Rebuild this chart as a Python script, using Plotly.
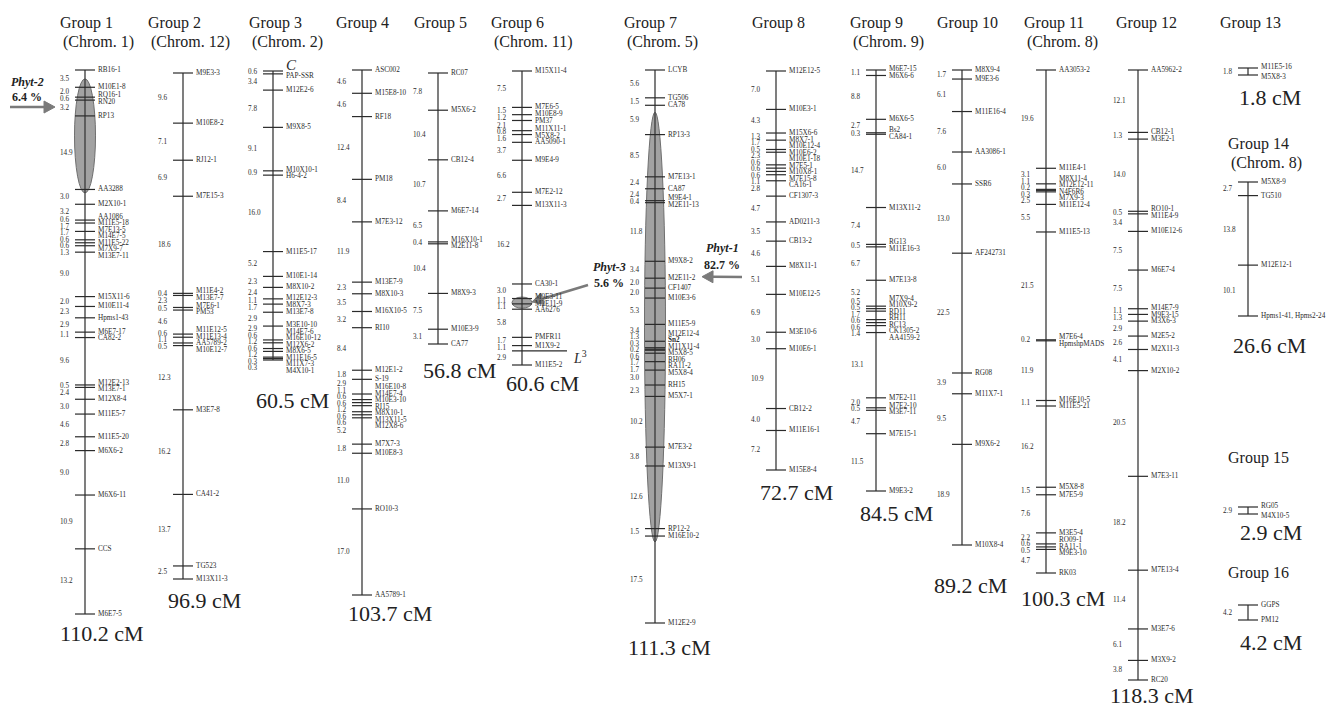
import plotly.graph_objects as go

# ---------------- linkage groups: marker order and adjacent distances (cM) ----------------
G1_MARKERS = ["RB16-1", "M10E1-8", "RQ16-1", "RN20", "RP13", "AA3288", "M2X10-1", "AA1086",
              "M11E5-18", "M7E13-5", "M14E7-5", "M11E5-22", "M7X9-7", "M13E7-11", "M15X11-6",
              "M10E11-4", "Hpms1-43", "M6E7-17", "CA82-2", "M12E2-13", "M13E7-1", "M12X8-4",
              "M11E5-7", "M11E5-20", "M6X6-2", "M6X6-11", "CCS", "M6E7-5"]
G1_DIST = [3.5, 2.0, 0.6, 3.2, 14.9, 3.0, 3.2, 0.6, 1.7, 1.7, 0.6, 0.6, 1.3, 9.0, 2.0, 2.3,
           2.9, 1.1, 9.6, 0.5, 2.4, 3.0, 4.6, 2.8, 9.0, 10.9, 13.2]

G2_MARKERS = ["M9E3-3", "M10E8-2", "RJ12-1", "M7E15-3", "M11E4-2", "M13E7-7", "M7E6-1", "PM53",
              "M11E12-5", "M11E13-4", "AA5789-2", "M10E12-7", "M3E7-8", "CA41-2", "TG523",
              "M13X11-3"]
G2_DIST = [9.6, 7.1, 6.9, 18.6, 0.4, 2.3, 0.5, 4.6, 0.6, 1.1, 0.5, 12.3, 16.2, 13.7, 2.5]

G3_MARKERS = ["C", "PAP-SSR", "M12E2-6", "M9X8-5", "M10X10-1", "H6-4-2", "M11E5-17", "M10E1-14",
              "M8X10-2", "M12E12-3", "M8X7-3", "M13E7-8", "M3E10-10", "M14E7-6", "M16E10-12",
              "M12X6-2", "M8X6-5", "M11E16-5", "M11X7-3", "M4X10-1"]
G3_DIST = [0.6, 3.4, 7.8, 9.1, 0.9, 16.0, 5.2, 2.3, 2.4, 1.1, 1.7, 2.9, 2.9, 0.6, 1.2, 0.6,
           1.2, 0.3, 0.3]

G4_MARKERS = ["ASC002", "M15E8-10", "RF18", "PM18", "M7E3-12", "M13E7-9", "M8X10-3", "M16X10-5",
              "RI10", "M12E1-2", "S-19", "M16E10-8", "M14E7-4", "M10E3-10", "RI15", "M8X10-1",
              "M13X11-5", "M12X8-6", "M7X7-3", "M10E8-3", "RO10-3", "AA5789-1"]
G4_DIST = [4.6, 4.6, 12.4, 8.4, 11.9, 2.3, 3.5, 3.2, 8.4, 1.8, 2.9, 1.1, 0.6, 0.6, 1.2, 0.6,
           0.6, 5.2, 1.8, 11.0, 17.0]

G5_MARKERS = ["RC07", "M5X6-2", "CB12-4", "M6E7-14", "M16X10-1", "M2E11-8", "M8X9-3",
              "M10E3-9", "CA77"]
G5_DIST = [7.8, 10.4, 10.7, 6.5, 0.4, 10.4, 7.5, 3.1]

G6_MARKERS = ["M15X11-4", "M7E6-5", "M10E8-9", "PM37", "M11X11-1", "M5X8-2", "AA5090-1",
              "M9E4-9", "M7E2-12", "M13X11-3", "CA30-1", "M9E3-11", "M2E11-9", "AA6276",
              "PMFR11", "M1X9-2", "L3", "M11E5-2"]
G6_DIST = [7.5, 1.5, 1.2, 2.1, 0.8, 1.6, 3.7, 6.6, 2.7, 16.2, 3.0, 1.1, 1.1, 5.8, 1.7, 1.1, 2.9]

G7_MARKERS = ["LCYB", "TG506", "CA78", "RP13-3", "M7E13-1", "CA87", "M9E4-1", "M2E11-13",
              "M9X8-2", "M2E11-2", "CF1407", "M10E3-6", "M11E5-9", "M12E12-4", "Sn2",
              "M11X11-4", "M5X8-5", "RH06", "RA11-2", "M5X8-4", "RH15", "M5X7-1", "M7E3-2",
              "M13X9-1", "RP12-2", "M16E10-2", "M12E2-9"]
G7_DIST = [5.6, 1.5, 5.9, 8.5, 2.4, 2.4, 0.4, 11.8, 3.4, 2.0, 2.0, 5.3, 3.4, 1.3, 0.3, 0.2,
           0.6, 1.7, 1.7, 3.0, 2.3, 10.2, 3.8, 12.6, 1.5, 17.5]

G8_MARKERS = ["M12E12-5", "M10E3-1", "M15X6-6", "M8X7-1", "M10E12-4", "M10E6-2", "M10E1-18",
              "M7E5-1", "M10X8-1", "M7E15-8", "CA16-1", "CF1307-3", "AD0211-3", "CB13-2",
              "M8X11-1", "M10E12-5", "M3E10-6", "M10E6-1", "CB12-2", "M11E16-1", "M15E8-4"]
G8_DIST = [7.0, 4.3, 1.3, 1.7, 0.5, 2.3, 0.6, 0.6, 0.6, 1.1, 2.8, 4.7, 3.5, 4.6, 5.1, 6.9,
           3.0, 10.9, 4.0, 7.2]

G9_MARKERS = ["M6E7-15", "M6X6-6", "M6X6-5", "Bs2", "CA84-1", "M13X11-2", "RG13", "M11E16-3",
              "M7E13-8", "M7X9-4", "M10X9-2", "RD11", "RH11", "RC13", "CK1305-2", "AA4159-2",
              "M7E2-11", "M7E2-10", "M3E7-11", "M7E15-1", "M9E3-2"]
G9_DIST = [1.1, 8.8, 2.7, 0.3, 14.7, 7.4, 0.5, 6.7, 5.2, 0.5, 0.5, 1.7, 0.6, 0.6, 1.4, 13.1,
           2.0, 0.5, 4.7, 11.5]

G10_MARKERS = ["M8X9-4", "M9E3-6", "M11E16-4", "AA3086-1", "SSR6", "AF242731", "RG08",
               "M11X7-1", "M9X6-2", "M10X8-4"]
G10_DIST = [1.7, 6.1, 7.6, 6.0, 13.0, 22.5, 3.9, 9.5, 18.9]

G11_MARKERS = ["AA3053-2", "M11E4-1", "M8X11-4", "M12E12-11", "N4F6R6", "M7X9-3", "M11E12-4",
               "M11E5-13", "M7E6-4", "HpmshpMADS", "M16E10-5", "M11E5-21", "M5X8-8", "M7E5-9",
               "M3E5-4", "RO09-1", "RA11-1", "M9E3-10", "RK03"]
G11_DIST = [19.6, 3.1, 1.1, 0.2, 0.3, 2.5, 5.5, 21.5, 0.2, 11.9, 1.1, 16.2, 1.5, 7.6, 2.2,
            0.6, 0.5, 4.7]

G12_MARKERS = ["AA5962-2", "CB12-1", "M3E2-1", "RO10-1", "M11E4-9", "M10E12-6", "M6E7-4",
               "M14E7-9", "M9E3-15", "M3X6-3", "M2E5-2", "M2X11-3", "M2X10-2", "M7E3-11",
               "M7E13-4", "M3E7-6", "M3X9-2", "RC20"]
G12_DIST = [12.1, 1.3, 14.0, 0.5, 3.4, 7.5, 7.5, 1.1, 1.3, 2.9, 2.6, 4.1, 20.5, 18.2, 11.4,
            6.1, 3.8]

G13_MARKERS = ["M11E5-16", "M5X8-3"]
G13_DIST = [1.8]
G14_MARKERS = ["M5X8-9", "TG510", "M12E12-1", "Hpms1-41, Hpms2-24"]
G14_DIST = [2.7, 13.8, 10.1]
G15_MARKERS = ["RG05", "M4X10-5"]
G15_DIST = [2.9]
G16_MARKERS = ["GGPS", "PM12"]
G16_DIST = [4.2]

GROUP_NAMES = [f"Group {i}" for i in range(1, 17)]
CHROM_NAMES = ["(Chrom. 1)", "(Chrom. 12)", "(Chrom. 2)", "", "", "(Chrom. 11)", "(Chrom. 5)",
               "", "(Chrom. 9)", "", "(Chrom. 8)", "", "", "(Chrom. 8)", "", ""]

# QTL: group, support interval, peak, explained variance
QTL_NAMES = ["Phyt-2", "Phyt-3", "Phyt-1"]
QTL_GROUP = [1, 6, 7]
QTL_START = [1.8, 46.6, 8.5]
QTL_END = [24.9, 48.9, 95.0]
QTL_PEAK = [7.5, 47.6, 41.6]
QTL_PVE = ["6.4 %", "5.6 %", "82.7 %"]

MARKERS = [G1_MARKERS, G2_MARKERS, G3_MARKERS, G4_MARKERS, G5_MARKERS, G6_MARKERS, G7_MARKERS,
           G8_MARKERS, G9_MARKERS, G10_MARKERS, G11_MARKERS, G12_MARKERS, G13_MARKERS,
           G14_MARKERS, G15_MARKERS, G16_MARKERS]
DISTANCES = [G1_DIST, G2_DIST, G3_DIST, G4_DIST, G5_DIST, G6_DIST, G7_DIST, G8_DIST, G9_DIST,
             G10_DIST, G11_DIST, G12_DIST, G13_DIST, G14_DIST, G15_DIST, G16_DIST]

# ---------------- page layout (pixels) ----------------
W, H = 1330, 707
BAR_X = [85, 183, 273, 362, 438, 522, 655, 776, 876, 962, 1046, 1138, 1248, 1248, 1248, 1248]
TOP_PX = [70, 73, 71, 70, 73, 71, 70, 71, 70, 70, 70, 70, 68, 182, 507, 605]
BOTTOM_PX = [614, 579, 360, 595, 344, 365, 623, 470, 491, 545, 573, 680, 75, 316, 514, 620]
TITLE_LEFT = [58, 146, 247, 334, 412, 489, 622, 750, 848, 935, 1022, 1114, 1218, 1226, 1226, 1226]
TITLE_Y = [23] * 13 + [144, 458, 573]
LEN_LEFT = [58, 166, 254, 346, 421, 504, 626, 758, 858, 932, 1019, 1108, 1237, 1231, 1238, 1238]
LEN_DY = [19, 21, 40, 18, 26, 18, 24, 22, 22, 40, 25, 15, 22, 29, 18, 22]
LABEL_GAP = [6.5] * 12 + [10, 6.5, 10, 6.5]
TICK_HALF = 10
QTL_HALF_W = [10.5, 10, 10.5]
ARROW_TIP_X = [55, 532, 702]
ARROW_TAIL = [(10, 107), (588, 285), (742, 277)]
QTL_TEXT = [(27, 82, 97), (609, 267, 283), (722, 248, 265)]

FONT = "'Liberation Serif', 'Times New Roman', serif"
INK = "#2b2b2b"
BAR_COLOR = "#3a3a3a"
ARROW_COLOR = "#7a7a7a"


def cumulative(dist):
    pos = [0.0]
    for d in dist:
        pos.append(round(pos[-1] + d, 4))
    return pos


def spread(desired, gap):
    """Push label positions apart so neighbours are at least `gap` px apart."""
    def top(block):
        return sum(v - k * gap for k, v in enumerate(block)) / len(block)

    blocks = []
    for d in desired:
        blocks.append([d])
        while len(blocks) > 1 and top(blocks[-2]) + len(blocks[-2]) * gap > top(blocks[-1]):
            merged = blocks[-2] + blocks[-1]
            blocks.pop()
            blocks[-1] = merged
    out = []
    for b in blocks:
        t = top(b)
        out.extend(t + k * gap for k in range(len(b)))
    return out


def label_html(name):
    if name == "C":
        return "<i>C</i>"
    if name == "Sn2":
        return "<b>Sn2</b>"
    return name


fig = go.Figure()
annotations = []
shapes = []
layout_axes = {}

for g in range(16):
    ax_name = f"y{g + 2}"
    pos = cumulative(DISTANCES[g])
    total = pos[-1]
    bx = BAR_X[g]
    scale = (BOTTOM_PX[g] - TOP_PX[g]) / total
    layout_axes[f"yaxis{g + 2}"] = dict(
        range=[(H - TOP_PX[g]) / scale, -TOP_PX[g] / scale],
        overlaying="y", visible=False, fixedrange=True, anchor="x")

    # chromosome bar
    fig.add_trace(go.Scatter(x=[bx, bx], y=[0, total], xaxis="x", yaxis=ax_name, mode="lines",
                             line=dict(color=BAR_COLOR, width=1.3), hoverinfo="skip",
                             showlegend=False))
    # marker ticks
    tx, ty = [], []
    for name, p in zip(MARKERS[g], pos):
        right = bx + (45 if name == "L3" else TICK_HALF)
        tx += [bx - TICK_HALF, right, None]
        ty += [p, p, None]
    fig.add_trace(go.Scatter(x=tx, y=ty, xaxis="x", yaxis=ax_name, mode="lines",
                             line=dict(color=INK, width=1.2), hoverinfo="skip",
                             showlegend=False))

    # marker names on the right
    names = [(n, p) for n, p in zip(MARKERS[g], pos) if n != "L3"]
    placed = spread([p * scale for _, p in names], LABEL_GAP[g])
    for (n, _), ypx in zip(names, placed):
        big = n == "C"
        annotations.append(dict(
            x=bx + 11.5, y=ypx / scale, xref="x", yref=ax_name, text=label_html(n),
            showarrow=False, xanchor="left", yanchor="middle", borderpad=0,
            yshift=4 if big else 0,
            font=dict(family=FONT, size=15 if big else 7.2, color=INK)))
    for n, p in zip(MARKERS[g], pos):
        if n == "L3":
            annotations.append(dict(
                x=bx + 49, y=p, xref="x", yref=ax_name, yshift=-6,
                text="<i>L</i><sup>3</sup>", showarrow=False, xanchor="left",
                yanchor="middle", font=dict(family=FONT, size=14, color=INK)))

    # interval distances on the left
    mids = [(pos[i] + pos[i + 1]) / 2 * scale for i in range(len(DISTANCES[g]))]
    placed = spread(mids, LABEL_GAP[g])
    for d, ypx in zip(DISTANCES[g], placed):
        annotations.append(dict(
            x=bx - 26.5, y=ypx / scale, xref="x", yref=ax_name, text=f"{d:.1f}",
            showarrow=False, xanchor="left", yanchor="middle", borderpad=0,
            font=dict(family=FONT, size=7.2, color=INK)))

    # group title and total length
    annotations.append(dict(x=TITLE_LEFT[g], y=TITLE_Y[g], xref="x", yref="y",
                            text=GROUP_NAMES[g], showarrow=False, xanchor="left",
                            yanchor="middle", font=dict(family=FONT, size=16, color="#222")))
    if CHROM_NAMES[g]:
        annotations.append(dict(x=TITLE_LEFT[g] + 3, y=TITLE_Y[g] + 19, xref="x", yref="y",
                                text=CHROM_NAMES[g], showarrow=False, xanchor="left",
                                yanchor="middle", font=dict(family=FONT, size=16, color="#222")))
    annotations.append(dict(x=LEN_LEFT[g], y=total, xref="x", yref=ax_name, yshift=-LEN_DY[g],
                            text=f"{total:.1f} cM", showarrow=False, xanchor="left",
                            yanchor="middle", font=dict(family=FONT, size=22, color="#222")))

# QTL intervals with arrows and labels
for q in range(len(QTL_NAMES)):
    g = QTL_GROUP[q] - 1
    ax_name = f"y{g + 2}"
    bx = BAR_X[g]
    total = cumulative(DISTANCES[g])[-1]
    scale = (BOTTOM_PX[g] - TOP_PX[g]) / total
    shapes.append(dict(type="circle", xref="x", yref=ax_name, layer="below",
                       x0=bx - QTL_HALF_W[q], x1=bx + QTL_HALF_W[q],
                       y0=QTL_START[q], y1=QTL_END[q],
                       fillcolor="#a2a2a2", line=dict(color="#6f6f6f", width=1)))
    # arrow: shaft as a line shape, head as a filled triangle path (pixel space)
    tip_y = TOP_PX[g] + QTL_PEAK[q] * scale
    tail_x, tail_y = ARROW_TAIL[q]
    tip_x = ARROW_TIP_X[q]
    dx, dy = tip_x - tail_x, tip_y - tail_y
    length = (dx * dx + dy * dy) ** 0.5
    ux, uy = dx / length, dy / length
    head_len, head_half = 11, 6
    bxh, byh = tip_x - ux * head_len, tip_y - uy * head_len
    shapes.append(dict(type="line", xref="x", yref="y", x0=tail_x, y0=tail_y, x1=bxh, y1=byh,
                       line=dict(color=ARROW_COLOR, width=2.6)))
    p1 = (bxh - uy * head_half, byh + ux * head_half)
    p2 = (bxh + uy * head_half, byh - ux * head_half)
    shapes.append(dict(type="path", xref="x", yref="y",
                       path=f"M{tip_x},{tip_y} L{p1[0]},{p1[1]} L{p2[0]},{p2[1]} Z",
                       fillcolor=ARROW_COLOR, line=dict(color=ARROW_COLOR, width=1)))
    cx, y1, y2 = QTL_TEXT[q]
    annotations.append(dict(x=cx, y=y1, xref="x", yref="y", text=f"<b><i>{QTL_NAMES[q]}</i></b>",
                            showarrow=False, xanchor="center", yanchor="middle",
                            font=dict(family=FONT, size=12, color="#222")))
    annotations.append(dict(x=cx, y=y2, xref="x", yref="y", text=f"<b>{QTL_PVE[q]}</b>",
                            showarrow=False, xanchor="center", yanchor="middle",
                            font=dict(family=FONT, size=12, color="#222")))

fig.update_layout(
    width=W, height=H, autosize=False,
    margin=dict(l=0, r=0, t=0, b=0, pad=0),
    paper_bgcolor="white", plot_bgcolor="white",
    xaxis=dict(range=[0, W], visible=False, fixedrange=True),
    yaxis=dict(range=[H, 0], visible=False, fixedrange=True),
    annotations=annotations, shapes=shapes, showlegend=False,
    **layout_axes,
)

fig.write_html("out.html")
